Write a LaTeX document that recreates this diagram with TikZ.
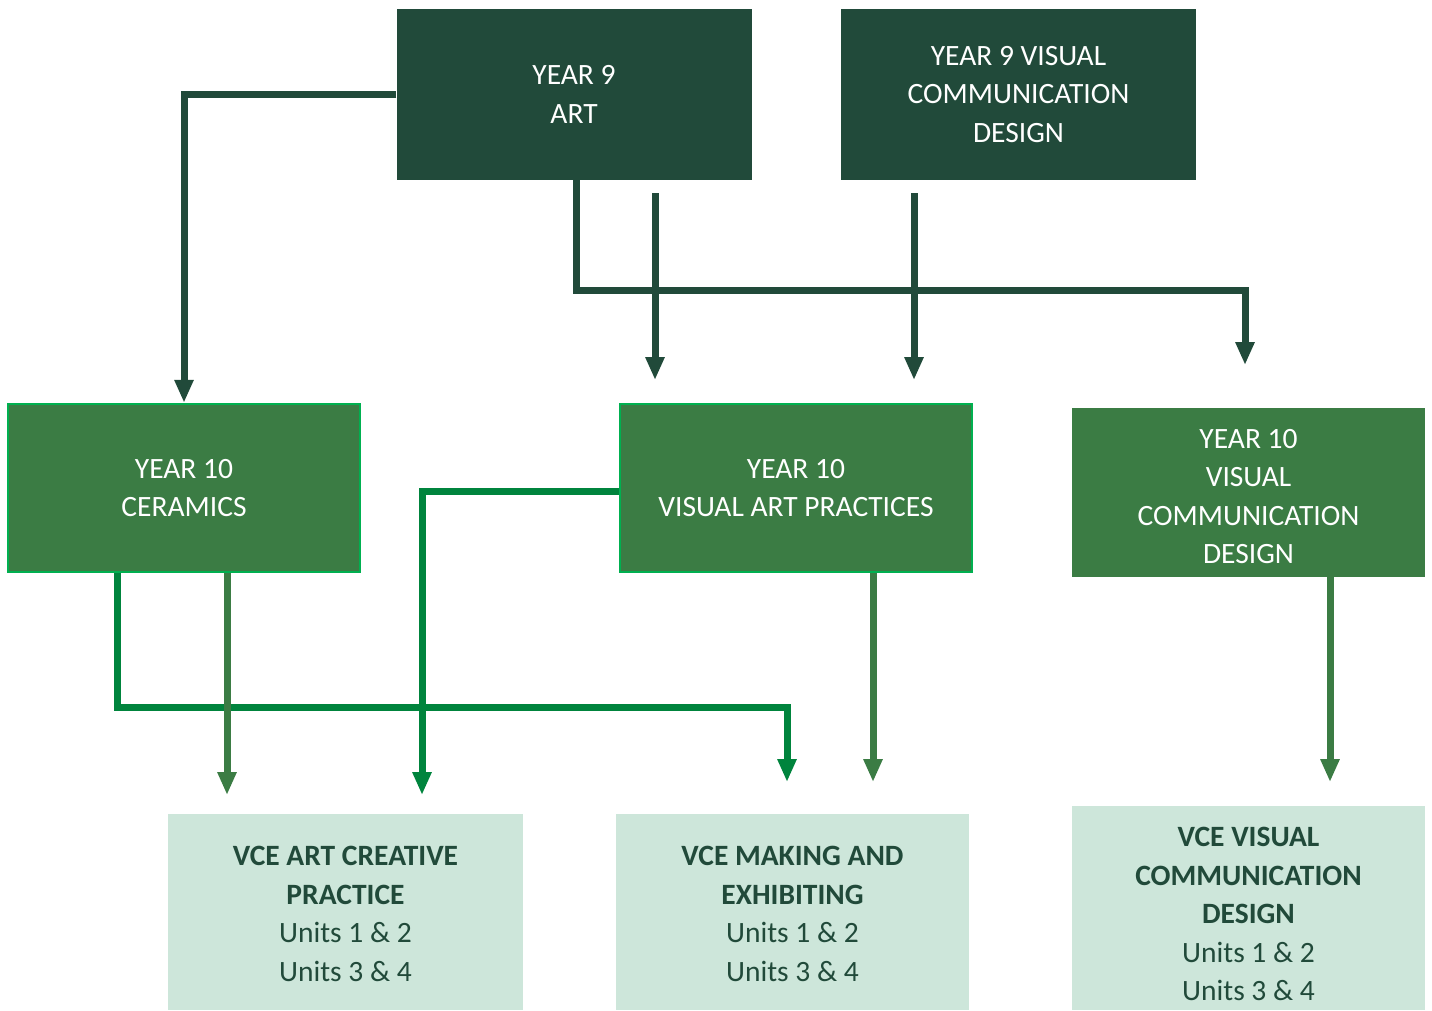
\documentclass[tikz,border=0pt]{standalone}
\usepackage{fontspec}
\setmainfont{Carlito}
\usetikzlibrary{arrows.meta}

\definecolor{darkgreen}{RGB}{33,74,58}
\definecolor{midgreen}{RGB}{59,124,68}
\definecolor{brightgreen}{RGB}{0,132,61}
\definecolor{edgegreen}{RGB}{0,176,80}
\definecolor{palegreen}{RGB}{205,230,218}

\tikzset{
  boxfont/.style={font=\fontsize{29.5}{38.5}\selectfont},
  yearnine/.style={draw=none, fill=darkgreen, text=white, align=center,
    minimum width=355pt, minimum height=171pt, inner sep=0pt, boxfont},
  yearten/.style={draw=edgegreen, line width=2.5pt, fill=midgreen, text=white, align=center,
    minimum width=352pt, minimum height=168pt, inner sep=0pt, boxfont},
  yeartenplain/.style={draw=none, fill=midgreen, minimum width=353pt,
    minimum height=169pt, inner sep=0pt},
  vcebox/.style={draw=none, fill=palegreen, minimum width=355pt, inner sep=0pt},
  boxtext/.style={align=center, inner sep=0pt, boxfont},
  link/.style={line width=7pt, -{Triangle[width=18pt,length=23pt]}},
  darklink/.style={link, draw=darkgreen},
  brightlink/.style={link, draw=brightgreen},
  midlink/.style={link, draw=midgreen},
}

\begin{document}
\begin{tikzpicture}[x=1pt, y=-1pt]
  \useasboundingbox (0,0) rectangle (1432,1010);

  % Year 9 courses
  \node[yearnine] (yart) at (574,94.5) {YEAR 9\\ART};
  \node[yearnine] (yvcd) at (1018.5,94.5) {YEAR 9 VISUAL\\COMMUNICATION\\DESIGN};

  % Year 10 courses
  \node[yearten] (cer) at (184,488) {YEAR 10\\CERAMICS};
  \node[yearten] (vap) at (796,488) {YEAR 10\\VISUAL ART PRACTICES};
  \node[yeartenplain] (tvcd) at (1248.5,492.5) {};
  \node[boxtext, text=white] (tvcdtext) at ([yshift=-4pt]tvcd.center)
    {YEAR 10\\VISUAL\\COMMUNICATION\\DESIGN};

  % VCE studies
  \node[vcebox, minimum height=196pt] (vart) at (345.5,912) {};
  \node[boxtext, text=darkgreen] (varttext) at ([yshift=-2pt]vart.center)
    {\textbf{VCE ART CREATIVE}\\\textbf{PRACTICE}\\Units 1 \& 2\\Units 3 \& 4};
  \node[vcebox, minimum height=196pt, minimum width=353pt] (vmake) at (792.5,912) {};
  \node[boxtext, text=darkgreen] (vmaketext) at ([yshift=-2pt]vmake.center)
    {\textbf{VCE MAKING AND}\\\textbf{EXHIBITING}\\Units 1 \& 2\\Units 3 \& 4};
  \node[vcebox, minimum height=204pt, minimum width=353pt] (vvcd) at (1248.5,908) {};
  \node[boxtext, text=darkgreen] (vvcdtext) at ([yshift=-6pt]vvcd.center)
    {\textbf{VCE VISUAL}\\\textbf{COMMUNICATION}\\\textbf{DESIGN}\\Units 1 \& 2\\Units 3 \& 4};

  % free ends of the connectors
  \coordinate (artstart) at (655,193);
  \coordinate (artend) at (655,380);
  \coordinate (vcdstart) at (914,193);
  \coordinate (vcdend) at (914,380);
  \coordinate (rightend) at (1245,365);
  \coordinate (makeend) at (787,782);
  \coordinate (cerend) at (227,795);
  \coordinate (vapend) at (422,795);
  \coordinate (vapmakeend) at (873,782);
  \coordinate (tvcdend) at (1330,782);

  % Year 9 to Year 10
  \draw[darklink] (yart.west) -| (cer.north);
  \draw[darklink] ([xshift=2pt]yart.south) -- ++(0,110) -| (rightend);
  \draw[darklink] (artstart) -- (artend);
  \draw[darklink] (vcdstart) -- (vcdend);

  % Year 10 to VCE
  \draw[brightlink] ([xshift=-67pt]cer.south) -- ++(0,134) -| (makeend);
  \draw[brightlink] ([yshift=-3pt]vap.west) -| (vapend);
  \draw[midlink] ([xshift=43pt]cer.south) -- (cerend);
  \draw[midlink] ([xshift=77pt]vap.south) -- (vapmakeend);
  \draw[midlink] ([xshift=81.5pt]tvcd.south) -- (tvcdend);
\end{tikzpicture}
\end{document}
